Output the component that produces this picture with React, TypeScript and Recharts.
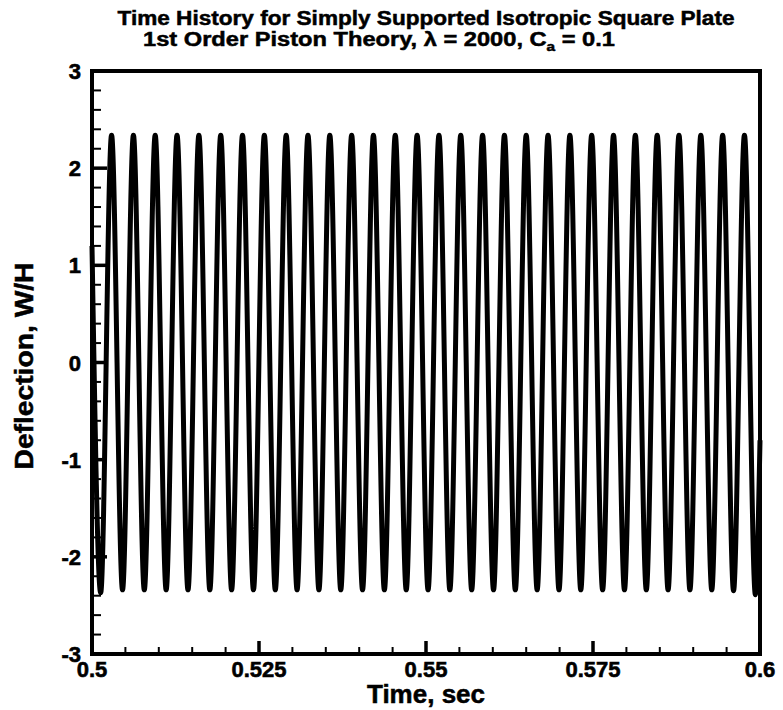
import React from 'react';
import { LineChart, Line, XAxis, YAxis, ReferenceArea } from 'recharts';

// deflection history (peaks and troughs of the oscillation)
const startTime = 0.5;
const startValue = 1.2;
const endTime = 0.6;
const endValue = -0.8;

const troughTimes = [
  0.5013, 0.50457, 0.50783, 0.5111, 0.51437, 0.51764, 0.5209, 0.52417, 0.52744, 0.5307,
  0.53397, 0.53724, 0.5405, 0.54377, 0.54704, 0.55031, 0.55357, 0.55684, 0.56011, 0.56337,
  0.56664, 0.56991, 0.57317, 0.57644, 0.57971, 0.58298, 0.58624, 0.58951, 0.59278, 0.59604,
  0.59931,
];
const troughValues = [
  -2.37, -2.34, -2.34, -2.34, -2.34, -2.34, -2.34, -2.34, -2.34, -2.34,
  -2.34, -2.34, -2.34, -2.34, -2.34, -2.34, -2.34, -2.34, -2.34, -2.34,
  -2.34, -2.34, -2.34, -2.34, -2.34, -2.34, -2.34, -2.34, -2.34, -2.35,
  -2.39,
];
const peakTimes = [
  0.50293, 0.5062, 0.50946, 0.51273, 0.516, 0.51927, 0.52253, 0.5258, 0.52907, 0.53233,
  0.5356, 0.53887, 0.54213, 0.5454, 0.54867, 0.55194, 0.5552, 0.55847, 0.56174, 0.565,
  0.56827, 0.57154, 0.5748, 0.57807, 0.58134, 0.58461, 0.58787, 0.59114, 0.59441, 0.59767,
];
const peakValues = [
  2.34, 2.34, 2.34, 2.34, 2.34, 2.34, 2.34, 2.34, 2.34, 2.34,
  2.34, 2.34, 2.34, 2.34, 2.34, 2.34, 2.34, 2.34, 2.34, 2.34,
  2.34, 2.34, 2.34, 2.34, 2.34, 2.34, 2.34, 2.34, 2.34, 2.34,
];

const xTicks = [
  0.5, 0.505, 0.51, 0.515, 0.52, 0.525, 0.53, 0.535, 0.54, 0.545, 0.55,
  0.555, 0.56, 0.565, 0.57, 0.575, 0.58, 0.585, 0.59, 0.595, 0.6,
];
const xLabels = ['0.5', '0.525', '0.55', '0.575', '0.6'];
const yTicks = [
  -3, -2.8, -2.6, -2.4, -2.2, -2, -1.8, -1.6, -1.4, -1.2, -1, -0.8, -0.6, -0.4, -0.2, 0,
  0.2, 0.4, 0.6, 0.8, 1, 1.2, 1.4, 1.6, 1.8, 2, 2.2, 2.4, 2.6, 2.8, 3,
];
const yLabels = ['-3', '-2', '-1', '0', '1', '2', '3'];

const data = [
  { t: startTime, w: startValue },
  ...troughTimes.map((t, i) => ({ t, w: troughValues[i] })),
  ...peakTimes.map((t, i) => ({ t, w: peakValues[i] })),
  { t: endTime, w: endValue },
].sort((a, b) => a.t - b.t);

const W = 783;
const H = 710;
const PLOT_LEFT = 92;
const PLOT_BOTTOM = 654;
const FONT = '"Liberation Sans", Arial, Helvetica, sans-serif';

const XTick = (props: any) => {
  const { x, payload } = props;
  const r = (payload.value - 0.5) / 0.025;
  const idx = Math.round(r);
  const major = Math.abs(r - idx) < 1e-6;
  return (
    <g>
      <line x1={x} x2={x} y1={PLOT_BOTTOM} y2={PLOT_BOTTOM - (major ? 13 : 7)} stroke="#000" strokeWidth={major ? 3.5 : 2} />
      {major && (
        <text x={x} y={677} textAnchor="middle" fontFamily={FONT} fontWeight="bold" fontSize={22} fill="#000"
          stroke="#000" strokeWidth={0.6}>
          {xLabels[idx]}
        </text>
      )}
    </g>
  );
};

const YTick = (props: any) => {
  const { y, payload } = props;
  const idx = Math.round(payload.value);
  const major = Math.abs(payload.value - idx) < 1e-6;
  return (
    <g>
      <line x1={PLOT_LEFT} x2={PLOT_LEFT + (major ? 15 : 9)} y1={y} y2={y} stroke="#000" strokeWidth={major ? 3.5 : 2} />
      {major && (
        <text x={81} y={y + 8} textAnchor="end" fontFamily={FONT} fontWeight="bold" fontSize={22} fill="#000"
          stroke="#000" strokeWidth={0.6}>
          {yLabels[idx + 3]}
        </text>
      )}
    </g>
  );
};

export default function App() {
  return (
    <div style={{ position: 'relative', width: W, height: H, background: '#fff' }}>
      <style>{'body{margin:0}'}</style>
      <LineChart width={W} height={H} data={data} margin={{ top: 71, right: 23, bottom: 26, left: 52 }}>
        <XAxis
          type="number"
          dataKey="t"
          domain={[0.5, 0.6]}
          ticks={xTicks}
          interval={0}
          height={30}
          axisLine={false}
          tickLine={false}
          tick={XTick}
        />
        <YAxis
          type="number"
          domain={[-3, 3]}
          ticks={yTicks}
          interval={0}
          width={40}
          axisLine={false}
          tickLine={false}
          tick={YTick}
        />
        <Line
          type="monotone"
          dataKey="w"
          stroke="#000"
          strokeWidth={5}
          dot={false}
          isAnimationActive={false}
        />
        <ReferenceArea x1={0.5} x2={0.6} y1={-3} y2={3} fill="none" stroke="#000" strokeWidth={4} />
      </LineChart>
      <svg width={W} height={H} style={{ position: 'absolute', left: 0, top: 0, pointerEvents: 'none' }}>
        <g fontFamily={FONT} fontWeight="bold" fill="#000" stroke="#000" strokeWidth={0.5}>
          <text x={426} y={25} textAnchor="middle" fontSize={20} textLength={617} lengthAdjust="spacingAndGlyphs">
            Time History for Simply Supported Isotropic Square Plate
          </text>
          <text x={379} y={46} textAnchor="middle" fontSize={20} textLength={472} lengthAdjust="spacingAndGlyphs">
            1st Order Piston Theory, λ = 2000, C<tspan fontSize={13} dy={5}>a</tspan><tspan dy={-5}> = 0.1</tspan>
          </text>
          <text x={426} y={703} textAnchor="middle" fontSize={25} textLength={118} lengthAdjust="spacingAndGlyphs">
            Time, sec
          </text>
          <text transform="translate(33,366) rotate(-90)" textAnchor="middle" fontSize={25} textLength={207}
            lengthAdjust="spacingAndGlyphs">
            Deflection, W/H
          </text>
        </g>
      </svg>
    </div>
  );
}
